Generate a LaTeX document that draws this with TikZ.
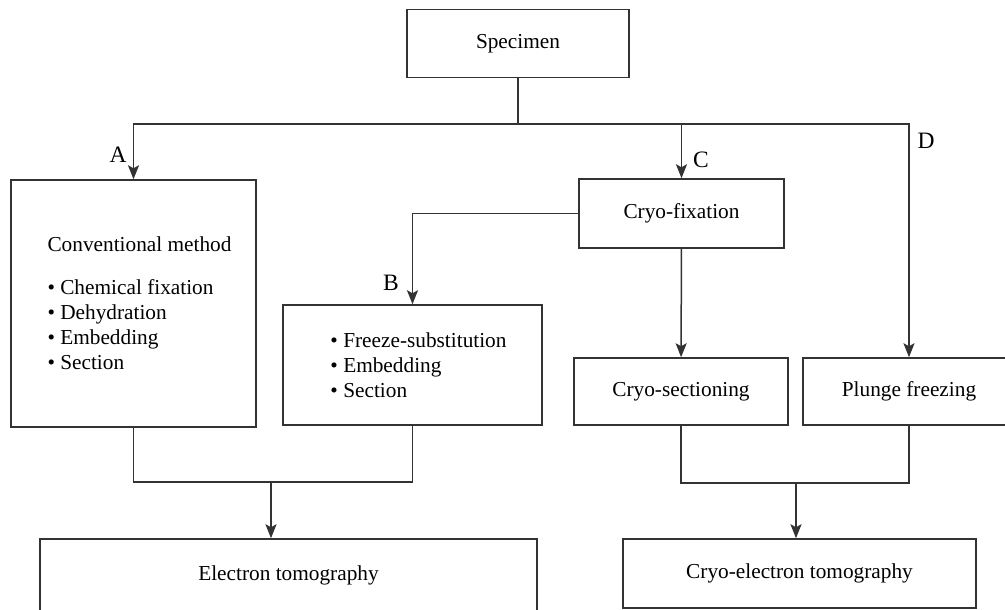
\documentclass[tikz,border=0pt]{standalone}
\usepackage{fontspec}
\setmainfont{Liberation Serif}
\usepackage{tikz}
\usetikzlibrary{positioning,arrows.meta}
\definecolor{linegrey}{HTML}{333333}

\begin{document}
\begin{tikzpicture}[x=1pt, y=-1pt,
        box/.style={draw=linegrey, line width=1.5pt, fill=white, align=center, inner sep=0pt, font=\fontsize{21.3}{25}\selectfont},
        lbox/.style={box, align=left},
        tag/.style={font=\fontsize{23.5}{27}\selectfont, inner sep=0pt},
        link/.style={draw=linegrey, line width=1.5pt},
        arr/.style={link, -{Stealth[length=14pt, width=11pt, inset=3pt]}}]
      \useasboundingbox (0,0) rectangle (1005,610);
      % top
      \node[box, minimum width=222pt, minimum height=68pt] (spec) at (518,43.5) {Specimen};
      \coordinate (split) at (518,124);
      % left branch
      \node[lbox, minimum width=245pt, minimum height=247pt] (conv) at (133.5,303.5) {\hspace*{12pt}Conventional method\\[18pt]
        \hspace*{12pt}\textbullet\ Chemical fixation\\ \hspace*{12pt}\textbullet\ Dehydration\\ \hspace*{12pt}\textbullet\ Embedding\\ \hspace*{12pt}\textbullet\ Section};
      \node[lbox, minimum width=259pt, minimum height=120pt] (subst) at (412.5,365) {\hspace*{12pt}\textbullet\ Freeze-substitution\\ \hspace*{12pt}\textbullet\ Embedding\\ \hspace*{12pt}\textbullet\ Section};
      % cryo branch
      \node[box, minimum width=205pt, minimum height=69pt] (fix) at (681.5,213.5) {Cryo-fixation};
      \node[box, minimum width=214pt, minimum height=67pt] (sect) at (681,391.5) {Cryo-sectioning};
      \node[box, minimum width=212pt, minimum height=67pt] (plunge) at (909,391.5) {Plunge freezing};
      % results
      \node[box, minimum width=497pt, minimum height=73pt] (etomo) at (288.5,575.5) {Electron tomography};
      \node[box, minimum width=353pt, minimum height=69pt] (cetomo) at (799.5,573.5) {Cryo-electron tomography};
      \coordinate (ljoin) at (271,482);
      \coordinate (rjoin) at (796,483);
      % labels
      \node[tag] (ta) at (118,154.5) {A};
      \node[tag] (tb) at (391,283) {B};
      \node[tag] (tc) at (701,160) {C};
      \node[tag] (td) at (926,141) {D};
      \draw[link] (spec) -- (split);
      \draw[arr] (split) -| (conv);
      \draw[arr] (split) -| (fix);
      \draw[arr] (split) -| (plunge);
      \draw[arr] (fix.west) -| (subst);
      \draw[arr] (fix) -- (sect);
      \draw[link] (conv) |- (ljoin) -| (subst);
      \draw[arr] (ljoin) -- (ljoin |- etomo.north);
      \draw[link] (sect) |- (rjoin) -| (plunge);
      \draw[arr] (rjoin) -- (rjoin |- cetomo.north);
    \end{tikzpicture}
\end{document}
